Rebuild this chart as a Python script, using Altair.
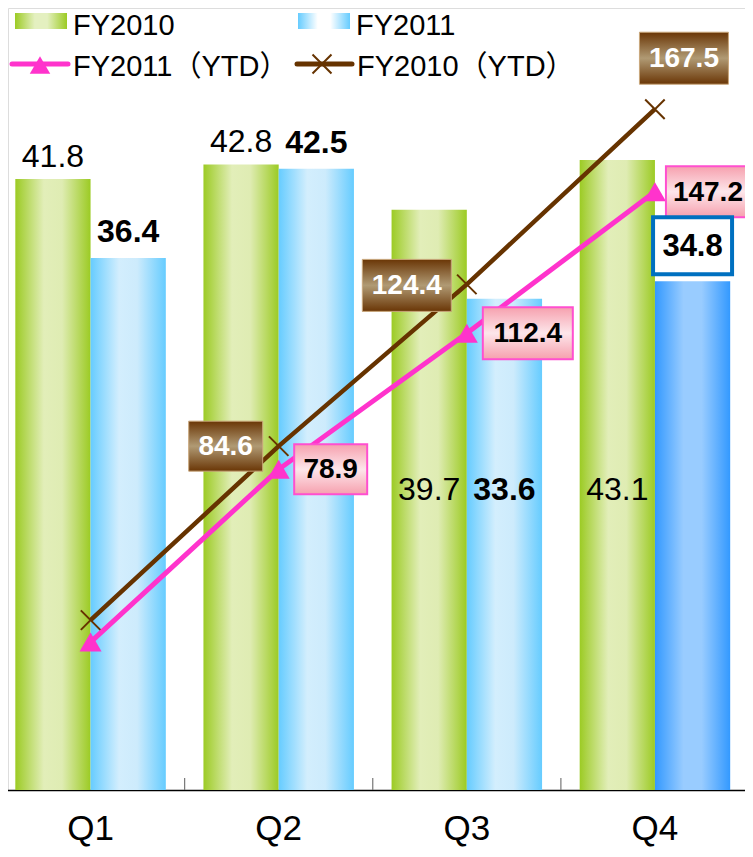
import altair as alt
import pandas as pd

# ---------------- data ----------------
quarters = ["Q1", "Q2", "Q3", "Q4"]
bar_series = ["FY2010", "FY2011"]
line_series = ["FY2011（YTD）", "FY2010（YTD）"]
fy2010 = [41.8, 42.8, 39.7, 43.1]
fy2011 = [36.4, 42.5, 33.6, 34.8]
fy2011_ytd = [36.4, 78.9, 112.4, 147.2]
fy2010_ytd = [41.8, 84.6, 124.4, 167.5]

bars = pd.DataFrame({
    "quarter": quarters * 2,
    "series": [bar_series[0]] * 4 + [bar_series[1]] * 4,
    "value": fy2010 + fy2011,
})
bars["label"] = bars["value"].map(lambda v: f"{v:.1f}")

lines = pd.DataFrame({
    "quarter": quarters * 2,
    "series": [line_series[0]] * 4 + [line_series[1]] * 4,
    "value": fy2011_ytd + fy2010_ytd,
})
lines["label"] = lines["value"].map(lambda v: f"{v:.1f}")

legend_one = pd.DataFrame({"k": [0]})

# ---------------- styles ----------------
W, H = 737, 782
BAR_MAX = 53.5
LINE_MAX = 192.4
FONT = "Liberation Sans, Arial, Noto Sans CJK JP, sans-serif"
PINK = "#ff33cc"
BROWN = "#663300"
STEP_HALF_GAP = 18.8


def hgrad(c_edge, c_mid1, c_mid2):
    return alt.LinearGradient(
        gradient="linear", x1=0, x2=1, y1=0, y2=0,
        stops=[alt.GradientStop(color=c_edge, offset=0),
               alt.GradientStop(color=c_mid1, offset=0.38),
               alt.GradientStop(color=c_mid2, offset=0.62),
               alt.GradientStop(color=c_edge, offset=1)])


def vgrad(c_edge, c_mid):
    return alt.LinearGradient(
        gradient="linear", x1=0, x2=0, y1=0, y2=1,
        stops=[alt.GradientStop(color=c_edge, offset=0),
               alt.GradientStop(color=c_mid, offset=0.5),
               alt.GradientStop(color=c_edge, offset=1)])


green_grad = hgrad("#9ccb24", "#e2eeb9", "#dfecb3")
blue_grad = hgrad("#66ccff", "#d3eefd", "#cdebfc")
blue_dark_grad = hgrad("#3399ff", "#99ccff", "#99ccff")
leg_green = hgrad("#9ccb24", "#e4f0c0", "#e4f0c0")
leg_blue = hgrad("#66ccff", "#ffffff", "#ffffff")
brown_box = vgrad("#6a3606", "#b09a74")
pink_box = vgrad("#f6a0ae", "#fde6ea")

x_scale = alt.Scale(domain=quarters, range=[-11.5, 741], paddingInner=0.2, paddingOuter=0.1)
x_axis = alt.Axis(title=None, ticks=False, labelAngle=0, labelFontSize=35,
                  labelColor="black", labelBaseline="alphabetic", labelPadding=49,
                  domainColor="black", domainWidth=1.5, grid=False, labelFont=FONT)
x_enc = alt.X("quarter:N", scale=x_scale, axis=x_axis, sort=quarters)
xoff = alt.XOffset("series:N", scale=alt.Scale(domain=bar_series, paddingInner=0, paddingOuter=0))
y_bar = alt.Y("value:Q", scale=alt.Scale(domain=[0, BAR_MAX], nice=False, zero=True), axis=None)
y_line = alt.Y("value:Q", scale=alt.Scale(domain=[0, LINE_MAX], nice=False, zero=True), axis=None)

base_bar = alt.Chart(bars)
base_line = alt.Chart(lines)


def sel(chart, series, qs):
    return chart.transform_filter(alt.FieldEqualPredicate(field="series", equal=series)) \
                .transform_filter(alt.FieldOneOfPredicate(field="quarter", oneOf=qs))


layers = []

# bars
layers.append(sel(base_bar, "FY2010", quarters).mark_bar(fill=green_grad).encode(x=x_enc, xOffset=xoff, y=y_bar))
layers.append(sel(base_bar, "FY2011", quarters[:3]).mark_bar(fill=blue_grad).encode(x=x_enc, xOffset=xoff, y=y_bar))
layers.append(sel(base_bar, "FY2011", quarters[3:]).mark_bar(fill=blue_dark_grad).encode(x=x_enc, xOffset=xoff, y=y_bar))

# category separator ticks (pointing up from the axis line)
tick_df = pd.DataFrame({"quarter": quarters})
layers.append(alt.Chart(tick_df).transform_filter(
    alt.FieldOneOfPredicate(field="quarter", oneOf=quarters[1:])).mark_rule(
    color="#777777", strokeWidth=1.2, xOffset=-STEP_HALF_GAP).encode(
    x=alt.X("quarter:N", scale=x_scale, axis=x_axis, bandPosition=0),
    y=alt.value(H - 12), y2=alt.value(H)))

# bar labels
layers.append(sel(base_bar, "FY2010", ["Q1", "Q2"]).mark_text(
    fontSize=32, color="black", baseline="alphabetic", dy=-12).encode(
    x=x_enc, xOffset=xoff, y=y_bar, text="label:N"))
layers.append(sel(base_bar, "FY2011", ["Q1", "Q2"]).mark_text(
    fontSize=32, fontWeight="bold", color="black", baseline="alphabetic", dy=-16).encode(
    x=x_enc, xOffset=xoff, y=y_bar, text="label:N"))
layers.append(sel(base_bar, "FY2010", ["Q3", "Q4"]).mark_text(
    fontSize=32, color="black", baseline="alphabetic").encode(
    x=x_enc, xOffset=xoff, y=alt.value(492), text="label:N"))
layers.append(sel(base_bar, "FY2011", ["Q3"]).mark_text(
    fontSize=32, fontWeight="bold", color="black", baseline="alphabetic").encode(
    x=x_enc, xOffset=xoff, y=alt.value(492), text="label:N"))

# lines and markers
layers.append(sel(base_line, line_series[1], quarters).mark_line(color=BROWN, strokeWidth=4.5).encode(x=x_enc, y=y_line))
layers.append(sel(base_line, line_series[0], quarters).mark_line(color=PINK, strokeWidth=5).encode(x=x_enc, y=y_line))
layers.append(sel(base_line, line_series[1], quarters).mark_point(
    shape="M-1,-1L1,1M-1,1L1,-1", size=380, filled=False, color=BROWN, strokeWidth=2, opacity=1).encode(x=x_enc, y=y_line))
layers.append(sel(base_line, line_series[0], quarters).mark_point(
    shape="triangle-up", size=484, filled=True, color=PINK, opacity=1).encode(x=x_enc, y=y_line))


def rect_path(w, h):
    a = w / h
    return f"M{-a:.4f},-1H{a:.4f}V1H{-a:.4f}Z"


# label boxes on the YTD lines: (series, quarter, box w, box h, dx, dy)
box_specs = [
    (line_series[1], "Q2", 74, 50, -53, 0),
    (line_series[1], "Q3", 89, 52, -60, 1),
    (line_series[1], "Q4", 89, 52, 29, -51),
    (line_series[0], "Q2", 73, 50, 52, 0),
    (line_series[0], "Q3", 90, 52, 61, 0),
    (line_series[0], "Q4", 84, 51, 53, 0),
]
for s, q, w, h, dx, dy in box_specs:
    brown = s == line_series[1]
    layers.append(sel(base_line, s, [q]).mark_point(
        shape=rect_path(w, h), size=h * h, filled=True, opacity=1,
        fill=brown_box if brown else pink_box,
        stroke="#c9a77c" if brown else "#ff4fd0", strokeWidth=1 if brown else 2,
        xOffset=dx, yOffset=dy).encode(x=x_enc, y=y_line))
    layers.append(sel(base_line, s, [q]).mark_text(
        fontSize=28, fontWeight="bold", color="white" if brown else "black",
        baseline="middle", align="center", xOffset=dx, yOffset=dy + 1).encode(
        x=x_enc, y=y_line, text="label:N"))

# boxed label for FY2011 Q4 bar
layers.append(sel(base_bar, "FY2011", ["Q4"]).mark_point(
    shape=rect_path(79, 57), size=57 * 57, filled=True, opacity=1, fill="white",
    stroke="#0070c0", strokeWidth=4, yOffset=-35.5).encode(x=x_enc, xOffset=xoff, y=y_bar))
layers.append(sel(base_bar, "FY2011", ["Q4"]).mark_text(
    fontSize=31, fontWeight="bold", color="black", baseline="middle", yOffset=-34.5).encode(
    x=x_enc, xOffset=xoff, y=y_bar, text="label:N"))

# ---------------- legend ----------------
leg = alt.Chart(legend_one)
layers.append(leg.mark_rect(fill=leg_green).encode(x=alt.value(7), x2=alt.value(59), y=alt.value(5), y2=alt.value(21)))
layers.append(leg.mark_rect(fill=leg_blue).encode(x=alt.value(290), x2=alt.value(342), y=alt.value(5), y2=alt.value(21)))
layers.append(leg.mark_rule(color=PINK, strokeWidth=5, strokeCap="round").encode(x=alt.value(4), x2=alt.value(60), y=alt.value(56)))
layers.append(leg.mark_point(shape="triangle-up", size=420, filled=True, color=PINK, opacity=1).encode(x=alt.value(32), y=alt.value(57)))
layers.append(leg.mark_rule(color=BROWN, strokeWidth=5, strokeCap="round").encode(x=alt.value(289), x2=alt.value(344), y=alt.value(56)))
layers.append(leg.mark_point(shape="M-1,-1L1,1M-1,1L1,-1", size=360, filled=False, color=BROWN, strokeWidth=2, opacity=1).encode(x=alt.value(314), y=alt.value(56)))
for txt, lx, ly in [(bar_series[0], 65, 26.5), (bar_series[1], 348, 26.5), (line_series[0], 65, 68), (line_series[1], 349, 68)]:
    layers.append(leg.mark_text(text=txt, fontSize=29, color="black", align="left", baseline="alphabetic").encode(
        x=alt.value(lx), y=alt.value(ly)))

chart = alt.layer(*layers).resolve_scale(y="independent").properties(
    width=W, height=H,
    autosize=alt.AutoSizeParams(type="none"),
    padding={"left": 0, "right": 0, "top": 0, "bottom": 59},
    background="white",
).configure_view(stroke=None).configure(font=FONT)

chart.save("out.html", embed_options={"renderer": "svg", "actions": False})
